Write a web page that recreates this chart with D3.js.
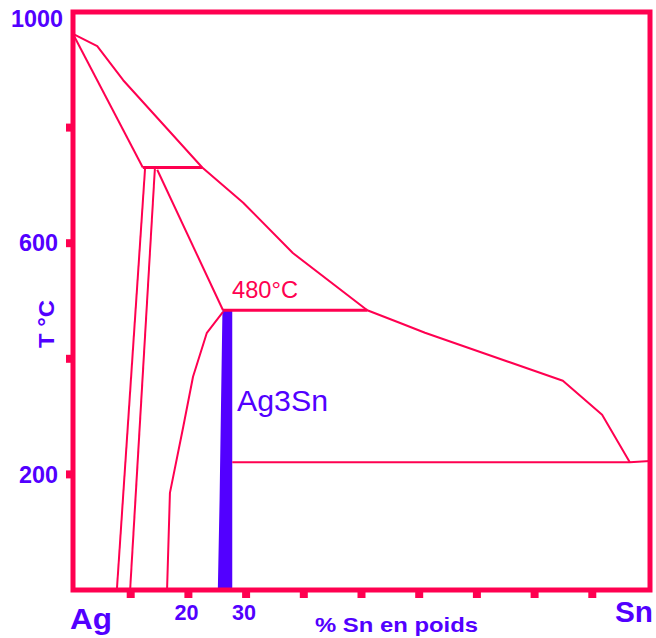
<!DOCTYPE html>
<html><head><meta charset="utf-8">
<script src="https://cdn.jsdelivr.net/npm/d3@7"></script>
<style>body{margin:0;background:#fff}svg{display:block}</style>
</head><body>
<script>
// ---- data (wt% Sn, °C) ----
const liquidus = [[0,962],[4.2,941],[8.7,882],[22.4,731],[29.5,670],[38.1,583],[51.0,484],[56.7,462],[61.0,445],[84.9,362],[91.7,303],[96.5,221]];
const solidusAg = [[0,962],[12.1,731]];
const peritectic724 = [[12.1,731],[22.4,731]];
const solvusA = [[12.5,731],[7.6,0]];
const solvusB = [[14.2,731],[9.9,0]];
const zetaLiq = [[14.6,727],[26.0,484]];
const zetaSolvus = [[26.0,481],[23.2,445],[20.8,369],[19.1,282],[16.8,168],[16.3,0]];
const peritectic480 = [[26.0,484],[51.0,484]];
const eutectic = [[27.6,221],[96.5,221],[100,223]];
const ag3sn = [[25.9,484],[27.6,484],[27.6,0],[25.1,0],[25.4,155]];
const yTicks = [200,400,600,800];
const yLabels = ["1000","600","200"];
const xTicks = [10,20,30,40,50,60,70,80,90];
const xLabels = ["20","30"];

const W=656,H=638, red="#ff0050", blue="#5200ff";
const svg=d3.select("body").append("svg").attr("width",W).attr("height",H);
const x=d3.scaleLinear().domain([0,100]).range([73,650]);
const y=d3.scaleLinear().domain([0,1000]).range([590,12]);
const line=d3.line().x(d=>x(d[0])).y(d=>y(d[1]));

// Ag3Sn compound
svg.append("path").attr("d",line(ag3sn)+"Z").attr("fill",blue);

// phase lines
[[liquidus,2],[solidusAg,2],[peritectic724,3],[solvusA,2],[solvusB,2],[zetaLiq,2],[zetaSolvus,2],[peritectic480,3],[eutectic,2]]
.forEach(([d,w])=>svg.append("path").attr("d",line(d)).attr("fill","none").attr("stroke",red).attr("stroke-width",w).attr("stroke-linejoin","round"));
svg.append("path").attr("d",line([[7.6,2],[9.9,0]])).attr("stroke",red).attr("stroke-width",1.5);

// frame
svg.append("rect").attr("x",x(0)).attr("y",y(1000)).attr("width",x(100)-x(0)).attr("height",y(0)-y(1000))
  .attr("fill","none").attr("stroke",red).attr("stroke-width",5);

// ticks
svg.selectAll(".yt").data(yTicks).join("line").attr("x1",x(0)-7).attr("x2",x(0)).attr("y1",d=>y(d)).attr("y2",d=>y(d))
  .attr("stroke",red).attr("stroke-width",8);
svg.selectAll(".xt").data(xTicks).join("line").attr("y1",y(0)).attr("y2",y(0)+8).attr("x1",d=>x(d)).attr("x2",d=>x(d))
  .attr("stroke",red).attr("stroke-width",8);

const font="Liberation Sans, Arial, sans-serif";
// tick labels
svg.selectAll(".yl").data(yLabels).join("text").attr("x",d=>d.length>3?63:58).attr("y",d=>Math.max(y(+d),19)).attr("dy","0.36em")
  .attr("text-anchor","end").attr("font-family",font).attr("font-weight","bold")
  .attr("font-size",23).attr("fill",blue).attr("textLength",d=>d.length*13).attr("lengthAdjust","spacingAndGlyphs").text(d=>d);
svg.selectAll(".xl").data(xLabels).join("text").attr("x",d=>x(+d)-2).attr("y",620).attr("text-anchor","middle")
  .attr("font-family",font).attr("font-weight","bold").attr("font-size",22)
  .attr("fill",blue).attr("textLength",24).attr("lengthAdjust","spacingAndGlyphs").text(d=>d);

function txt(s,xx,yy,fs,col,bold,len){const t=svg.append("text").attr("x",xx).attr("y",yy).attr("font-family",font)
  .attr("font-size",fs).attr("fill",col).attr("font-weight",bold?"bold":"normal").text(s);
  if(len) t.attr("textLength",len).attr("lengthAdjust","spacingAndGlyphs"); return t;}
txt("Ag",70,629,30,blue,true,42);
txt("Sn",615,622,29,blue,true,38);
txt("% Sn en poids",315,632,21,blue,true,163);
txt("480°C",232,298,23,red,false,66);
txt("Ag3Sn",237,411,30,blue,false,91);
svg.append("text").attr("transform","translate(54,324) rotate(-90)").attr("text-anchor","middle")
  .attr("font-family",font).attr("font-weight","bold").attr("font-size",22).attr("fill",blue)
  .attr("textLength",48).attr("lengthAdjust","spacingAndGlyphs").text("T °C");
</script>
</body></html>
